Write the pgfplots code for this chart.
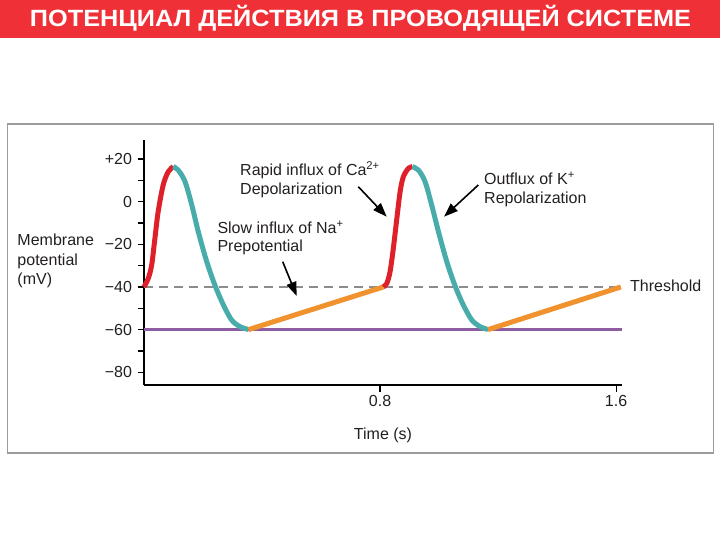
\documentclass[border=0pt]{standalone}
\usepackage{fontspec}
\setmainfont{Liberation Sans}
\usepackage{graphicx}
\usepackage{pgfplots}
\pgfplotsset{compat=1.18}
\usetikzlibrary{arrows.meta}

\definecolor{banner}{RGB}{239,48,54}
\definecolor{boxgray}{RGB}{155,155,155}
\definecolor{txt}{RGB}{35,31,32}
\definecolor{depol}{RGB}{222,32,42}
\definecolor{repol}{RGB}{72,172,170}
\definecolor{prepot}{RGB}{240,146,45}
\definecolor{rest}{RGB}{142,92,160}
\definecolor{thr}{RGB}{140,140,140}

\begin{document}
\begin{tikzpicture}
\useasboundingbox (0,0) rectangle (720bp,540bp);
% banner
\fill[banner] (0,502.3bp) rectangle (720bp,540bp);
\node[anchor=base, text=white, inner sep=0pt] at (360.5bp,513.3bp)
  {\resizebox{661bp}{\height}{\fontsize{23.5bp}{28bp}\selectfont\bfseries ПОТЕНЦИАЛ ДЕЙСТВИЯ В ПРОВОДЯЩЕЙ СИСТЕМЕ}};
% frame
\draw[boxgray, line width=1.5bp] (7.5bp,87bp) rectangle (713.5bp,416bp);

\begin{axis}[
  at={(144bp,154.9bp)}, anchor=south west,
  scale only axis, width=478bp, height=245.3bp,
  xmin=0, xmax=1.62, ymin=-86, ymax=29,
  axis lines*=left,
  axis line style={line width=1.3bp, black},
  clip=false,
  xtick={0.8,1.6}, xticklabels={0.8,1.6},
  ytick={-80,-60,-40,-20,0,20},
  yticklabels={−80,−60,−40,−20,0,+20},
  minor ytick={-70,-50,-30,-10,10},
  tick align=outside,
  major tick length=6.5bp, minor tick length=6.5bp,
  tick style={black, line width=1.2bp},
  every tick label/.append style={font=\fontsize{16bp}{19bp}\selectfont, text=txt},
  yticklabel style={xshift=-2bp},
  /pgf/number format/assume math mode=true,
]
  % resting level and threshold
  \addplot[rest, line width=2.8bp] coordinates {(0,-60) (1.62,-60)};
  \addplot[thr, line width=1.3bp, dash pattern=on 9bp off 6bp] coordinates {(0,-40) (1.6,-40)};

  % first cycle
  \addplot[depol, line width=5bp, smooth] coordinates {
    (0,-40) (0.0146,-35.9) (0.026,-29.7) (0.037,-17.2) (0.048,-4.7)
    (0.065,7.8) (0.082,14.0) (0.099,16.4)};
  \addplot[repol, line width=5bp, smooth] coordinates {
    (0.099,16.4) (0.116,14.8) (0.139,9.4) (0.162,-1.6) (0.184,-14.1)
    (0.2125,-28.1) (0.241,-39.4) (0.269,-48.4) (0.297,-55.5)
    (0.325,-58.6) (0.348,-59.7) (0.354,-60)};
  \addplot[prepot, line width=5bp] coordinates {(0.354,-60) (0.811,-40)};

  % second cycle
  \addplot[depol, line width=5bp, smooth] coordinates {
    (0.811,-40) (0.823,-38.3) (0.834,-32.8) (0.845,-21.9) (0.857,-7.8)
    (0.868,4.7) (0.879,11.7) (0.896,15.6) (0.9095,16.4)};
  \addplot[repol, line width=5bp, smooth] coordinates {
    (0.9095,16.4) (0.93,14.8) (0.9525,9.4) (0.975,-1.6) (0.998,-14.1)
    (1.026,-28.1) (1.054,-39.4) (1.082,-48.4) (1.111,-55.5)
    (1.139,-58.6) (1.16,-59.7) (1.166,-60)};
  \addplot[prepot, line width=5bp] coordinates {(1.166,-60) (1.616,-40)};
\end{axis}

% labels
\begin{scope}[every node/.style={text=txt, inner sep=0pt, font=\fontsize{16bp}{19bp}\selectfont}]
  \node[anchor=base west] at (17.3bp,294.3bp) {Membrane};
  \node[anchor=base west] at (17.3bp,274.8bp) {potential};
  \node[anchor=base west] at (17.3bp,255.3bp) {(mV)};
  \node[anchor=base] at (383bp,100bp) {Time (s)};
  \node[anchor=base west] at (630bp,248.3bp) {Threshold};

  \node[anchor=base west] at (240bp,364bp) {Rapid influx of Ca\textsuperscript{2+}};
  \node[anchor=base west] at (240bp,345.5bp) {Depolarization};
  \node[anchor=base west] at (217.3bp,306bp) {Slow influx of Na\textsuperscript{+}};
  \node[anchor=base west] at (217.3bp,288.3bp) {Prepotential};
  \node[anchor=base west] at (484bp,355.7bp) {Outflux of K\textsuperscript{+}};
  \node[anchor=base west] at (484bp,336.7bp) {Repolarization};
\end{scope}

% arrows
\begin{scope}[line width=1.6bp, black, -{Triangle[length=14bp,width=10bp]}]
  \draw (358.3bp,353.3bp) -- (386.7bp,323.3bp);
  \draw (282.7bp,278.3bp) -- (296.7bp,244bp);
  \draw (478.3bp,355bp) -- (444bp,323.3bp);
\end{scope}
\end{tikzpicture}
\end{document}
